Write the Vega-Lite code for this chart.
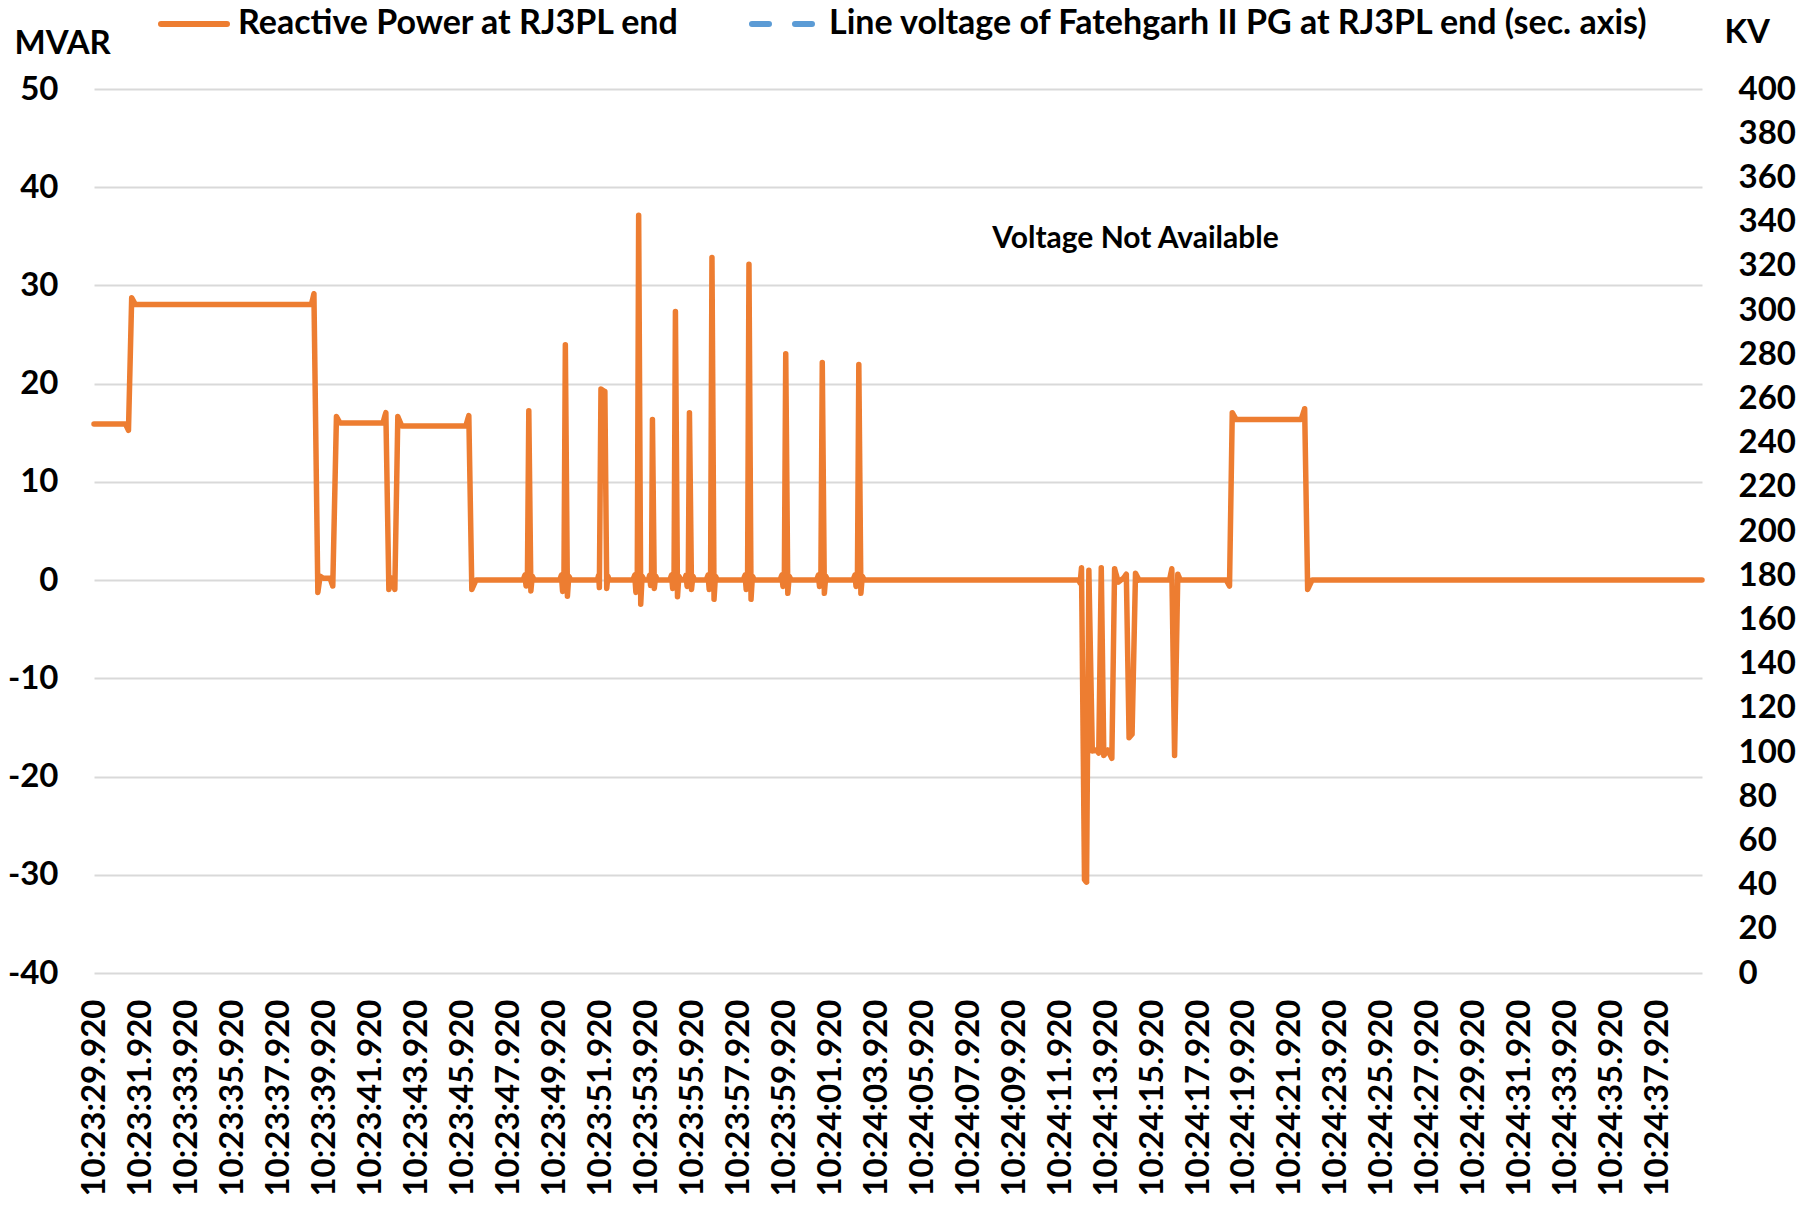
{
  "$schema": "https://vega.github.io/schema/vega-lite/v6.json",
  "width": 1608,
  "height": 884,
  "autosize": {"type": "none"},
  "padding": {"left": 94, "top": 89, "right": 110, "bottom": 241},
  "background": "white",
  "config": {
    "font": "Lato",
    "view": {"stroke": null},
    "axis": {
      "labelFont": "Lato", "labelFontWeight": "bold", "labelFontSize": 33, "labelColor": "black",
      "titleFont": "Lato", "titleFontWeight": "bold", "titleFontSize": 33, "titleColor": "black",
      "ticks": false, "tickSize": 0, "domain": false, "labelLimit": 500
    }
  },
  "data": {
    "values": [
      {"t": 29.88, "mvar": 15.9, "series": "Reactive Power at RJ3PL end"},
      {"t": 31.25, "mvar": 15.9, "series": "Reactive Power at RJ3PL end"},
      {"t": 31.38, "mvar": 15.25, "series": "Reactive Power at RJ3PL end"},
      {"t": 31.52, "mvar": 28.75, "series": "Reactive Power at RJ3PL end"},
      {"t": 31.68, "mvar": 28.05, "series": "Reactive Power at RJ3PL end"},
      {"t": 39.34, "mvar": 28.05, "series": "Reactive Power at RJ3PL end"},
      {"t": 39.45, "mvar": 29.15, "series": "Reactive Power at RJ3PL end"},
      {"t": 39.62, "mvar": -1.25, "series": "Reactive Power at RJ3PL end"},
      {"t": 39.72, "mvar": 0.4, "series": "Reactive Power at RJ3PL end"},
      {"t": 39.85, "mvar": 0.2, "series": "Reactive Power at RJ3PL end"},
      {"t": 40.15, "mvar": 0.2, "series": "Reactive Power at RJ3PL end"},
      {"t": 40.27, "mvar": -0.6, "series": "Reactive Power at RJ3PL end"},
      {"t": 40.43, "mvar": 16.65, "series": "Reactive Power at RJ3PL end"},
      {"t": 40.58, "mvar": 16.0, "series": "Reactive Power at RJ3PL end"},
      {"t": 42.45, "mvar": 16.0, "series": "Reactive Power at RJ3PL end"},
      {"t": 42.58, "mvar": 17.05, "series": "Reactive Power at RJ3PL end"},
      {"t": 42.71, "mvar": -0.95, "series": "Reactive Power at RJ3PL end"},
      {"t": 42.84, "mvar": 0.2, "series": "Reactive Power at RJ3PL end"},
      {"t": 42.97, "mvar": -0.95, "series": "Reactive Power at RJ3PL end"},
      {"t": 43.10, "mvar": 16.65, "series": "Reactive Power at RJ3PL end"},
      {"t": 43.27, "mvar": 15.7, "series": "Reactive Power at RJ3PL end"},
      {"t": 46.06, "mvar": 15.7, "series": "Reactive Power at RJ3PL end"},
      {"t": 46.19, "mvar": 16.75, "series": "Reactive Power at RJ3PL end"},
      {"t": 46.32, "mvar": -0.95, "series": "Reactive Power at RJ3PL end"},
      {"t": 46.50, "mvar": 0, "series": "Reactive Power at RJ3PL end"},
      {"t": 48.55, "mvar": 0, "series": "Reactive Power at RJ3PL end"},
      {"t": 48.63, "mvar": 0.5, "series": "Reactive Power at RJ3PL end"},
      {"t": 48.68, "mvar": -0.6, "series": "Reactive Power at RJ3PL end"},
      {"t": 48.74, "mvar": 0.4, "series": "Reactive Power at RJ3PL end"},
      {"t": 48.80, "mvar": 17.25, "series": "Reactive Power at RJ3PL end"},
      {"t": 48.89, "mvar": -1.1, "series": "Reactive Power at RJ3PL end"},
      {"t": 48.95, "mvar": 0.4, "series": "Reactive Power at RJ3PL end"},
      {"t": 49.04, "mvar": 0, "series": "Reactive Power at RJ3PL end"},
      {"t": 50.14, "mvar": 0, "series": "Reactive Power at RJ3PL end"},
      {"t": 50.22, "mvar": 0.5, "series": "Reactive Power at RJ3PL end"},
      {"t": 50.27, "mvar": -1.15, "series": "Reactive Power at RJ3PL end"},
      {"t": 50.33, "mvar": 0.4, "series": "Reactive Power at RJ3PL end"},
      {"t": 50.39, "mvar": 23.95, "series": "Reactive Power at RJ3PL end"},
      {"t": 50.48, "mvar": -1.65, "series": "Reactive Power at RJ3PL end"},
      {"t": 50.54, "mvar": 0.4, "series": "Reactive Power at RJ3PL end"},
      {"t": 50.63, "mvar": 0, "series": "Reactive Power at RJ3PL end"},
      {"t": 51.78, "mvar": 0, "series": "Reactive Power at RJ3PL end"},
      {"t": 51.84, "mvar": 0.5, "series": "Reactive Power at RJ3PL end"},
      {"t": 51.87, "mvar": -0.75, "series": "Reactive Power at RJ3PL end"},
      {"t": 51.94, "mvar": 19.45, "series": "Reactive Power at RJ3PL end"},
      {"t": 52.11, "mvar": 19.2, "series": "Reactive Power at RJ3PL end"},
      {"t": 52.19, "mvar": -0.85, "series": "Reactive Power at RJ3PL end"},
      {"t": 52.24, "mvar": 0.4, "series": "Reactive Power at RJ3PL end"},
      {"t": 52.30, "mvar": 0, "series": "Reactive Power at RJ3PL end"},
      {"t": 53.33, "mvar": 0, "series": "Reactive Power at RJ3PL end"},
      {"t": 53.41, "mvar": 0.5, "series": "Reactive Power at RJ3PL end"},
      {"t": 53.46, "mvar": -1.25, "series": "Reactive Power at RJ3PL end"},
      {"t": 53.52, "mvar": 0.4, "series": "Reactive Power at RJ3PL end"},
      {"t": 53.58, "mvar": 37.15, "series": "Reactive Power at RJ3PL end"},
      {"t": 53.67, "mvar": -2.45, "series": "Reactive Power at RJ3PL end"},
      {"t": 53.73, "mvar": 0.4, "series": "Reactive Power at RJ3PL end"},
      {"t": 53.82, "mvar": 0, "series": "Reactive Power at RJ3PL end"},
      {"t": 54.00, "mvar": 0, "series": "Reactive Power at RJ3PL end"},
      {"t": 54.06, "mvar": 0.5, "series": "Reactive Power at RJ3PL end"},
      {"t": 54.10, "mvar": -0.55, "series": "Reactive Power at RJ3PL end"},
      {"t": 54.14, "mvar": 0.4, "series": "Reactive Power at RJ3PL end"},
      {"t": 54.18, "mvar": 16.35, "series": "Reactive Power at RJ3PL end"},
      {"t": 54.26, "mvar": -0.85, "series": "Reactive Power at RJ3PL end"},
      {"t": 54.32, "mvar": 0.4, "series": "Reactive Power at RJ3PL end"},
      {"t": 54.40, "mvar": 0, "series": "Reactive Power at RJ3PL end"},
      {"t": 54.93, "mvar": 0, "series": "Reactive Power at RJ3PL end"},
      {"t": 55.01, "mvar": 0.5, "series": "Reactive Power at RJ3PL end"},
      {"t": 55.06, "mvar": -0.85, "series": "Reactive Power at RJ3PL end"},
      {"t": 55.12, "mvar": 0.4, "series": "Reactive Power at RJ3PL end"},
      {"t": 55.18, "mvar": 27.35, "series": "Reactive Power at RJ3PL end"},
      {"t": 55.27, "mvar": -1.7, "series": "Reactive Power at RJ3PL end"},
      {"t": 55.33, "mvar": 0.4, "series": "Reactive Power at RJ3PL end"},
      {"t": 55.42, "mvar": 0, "series": "Reactive Power at RJ3PL end"},
      {"t": 55.58, "mvar": 0, "series": "Reactive Power at RJ3PL end"},
      {"t": 55.64, "mvar": 0.5, "series": "Reactive Power at RJ3PL end"},
      {"t": 55.69, "mvar": -0.65, "series": "Reactive Power at RJ3PL end"},
      {"t": 55.74, "mvar": 0.4, "series": "Reactive Power at RJ3PL end"},
      {"t": 55.79, "mvar": 17.05, "series": "Reactive Power at RJ3PL end"},
      {"t": 55.88, "mvar": -0.95, "series": "Reactive Power at RJ3PL end"},
      {"t": 55.94, "mvar": 0.4, "series": "Reactive Power at RJ3PL end"},
      {"t": 56.02, "mvar": 0, "series": "Reactive Power at RJ3PL end"},
      {"t": 56.52, "mvar": 0, "series": "Reactive Power at RJ3PL end"},
      {"t": 56.60, "mvar": 0.5, "series": "Reactive Power at RJ3PL end"},
      {"t": 56.65, "mvar": -0.95, "series": "Reactive Power at RJ3PL end"},
      {"t": 56.71, "mvar": 0.4, "series": "Reactive Power at RJ3PL end"},
      {"t": 56.77, "mvar": 32.85, "series": "Reactive Power at RJ3PL end"},
      {"t": 56.86, "mvar": -1.95, "series": "Reactive Power at RJ3PL end"},
      {"t": 56.92, "mvar": 0.4, "series": "Reactive Power at RJ3PL end"},
      {"t": 57.01, "mvar": 0, "series": "Reactive Power at RJ3PL end"},
      {"t": 58.13, "mvar": 0, "series": "Reactive Power at RJ3PL end"},
      {"t": 58.21, "mvar": 0.5, "series": "Reactive Power at RJ3PL end"},
      {"t": 58.26, "mvar": -0.95, "series": "Reactive Power at RJ3PL end"},
      {"t": 58.32, "mvar": 0.4, "series": "Reactive Power at RJ3PL end"},
      {"t": 58.38, "mvar": 32.15, "series": "Reactive Power at RJ3PL end"},
      {"t": 58.47, "mvar": -1.95, "series": "Reactive Power at RJ3PL end"},
      {"t": 58.53, "mvar": 0.4, "series": "Reactive Power at RJ3PL end"},
      {"t": 58.62, "mvar": 0, "series": "Reactive Power at RJ3PL end"},
      {"t": 59.73, "mvar": 0, "series": "Reactive Power at RJ3PL end"},
      {"t": 59.81, "mvar": 0.5, "series": "Reactive Power at RJ3PL end"},
      {"t": 59.86, "mvar": -0.65, "series": "Reactive Power at RJ3PL end"},
      {"t": 59.92, "mvar": 0.4, "series": "Reactive Power at RJ3PL end"},
      {"t": 59.98, "mvar": 23.05, "series": "Reactive Power at RJ3PL end"},
      {"t": 60.07, "mvar": -1.35, "series": "Reactive Power at RJ3PL end"},
      {"t": 60.13, "mvar": 0.4, "series": "Reactive Power at RJ3PL end"},
      {"t": 60.22, "mvar": 0, "series": "Reactive Power at RJ3PL end"},
      {"t": 61.32, "mvar": 0, "series": "Reactive Power at RJ3PL end"},
      {"t": 61.40, "mvar": 0.5, "series": "Reactive Power at RJ3PL end"},
      {"t": 61.45, "mvar": -0.65, "series": "Reactive Power at RJ3PL end"},
      {"t": 61.51, "mvar": 0.4, "series": "Reactive Power at RJ3PL end"},
      {"t": 61.57, "mvar": 22.15, "series": "Reactive Power at RJ3PL end"},
      {"t": 61.66, "mvar": -1.35, "series": "Reactive Power at RJ3PL end"},
      {"t": 61.72, "mvar": 0.4, "series": "Reactive Power at RJ3PL end"},
      {"t": 61.81, "mvar": 0, "series": "Reactive Power at RJ3PL end"},
      {"t": 62.91, "mvar": 0, "series": "Reactive Power at RJ3PL end"},
      {"t": 62.99, "mvar": 0.5, "series": "Reactive Power at RJ3PL end"},
      {"t": 63.04, "mvar": -0.65, "series": "Reactive Power at RJ3PL end"},
      {"t": 63.10, "mvar": 0.4, "series": "Reactive Power at RJ3PL end"},
      {"t": 63.16, "mvar": 21.95, "series": "Reactive Power at RJ3PL end"},
      {"t": 63.25, "mvar": -1.35, "series": "Reactive Power at RJ3PL end"},
      {"t": 63.31, "mvar": 0.4, "series": "Reactive Power at RJ3PL end"},
      {"t": 63.40, "mvar": 0, "series": "Reactive Power at RJ3PL end"},
      {"t": 72.73, "mvar": 0, "series": "Reactive Power at RJ3PL end"},
      {"t": 72.79, "mvar": -0.3, "series": "Reactive Power at RJ3PL end"},
      {"t": 72.85, "mvar": 1.25, "series": "Reactive Power at RJ3PL end"},
      {"t": 72.98, "mvar": -30.5, "series": "Reactive Power at RJ3PL end"},
      {"t": 73.07, "mvar": -30.75, "series": "Reactive Power at RJ3PL end"},
      {"t": 73.17, "mvar": 1.0, "series": "Reactive Power at RJ3PL end"},
      {"t": 73.32, "mvar": -17.4, "series": "Reactive Power at RJ3PL end"},
      {"t": 73.50, "mvar": -17.3, "series": "Reactive Power at RJ3PL end"},
      {"t": 73.60, "mvar": -17.6, "series": "Reactive Power at RJ3PL end"},
      {"t": 73.71, "mvar": 1.25, "series": "Reactive Power at RJ3PL end"},
      {"t": 73.82, "mvar": -17.85, "series": "Reactive Power at RJ3PL end"},
      {"t": 74.00, "mvar": -17.3, "series": "Reactive Power at RJ3PL end"},
      {"t": 74.17, "mvar": -18.15, "series": "Reactive Power at RJ3PL end"},
      {"t": 74.29, "mvar": 1.15, "series": "Reactive Power at RJ3PL end"},
      {"t": 74.45, "mvar": -0.2, "series": "Reactive Power at RJ3PL end"},
      {"t": 74.68, "mvar": 0.2, "series": "Reactive Power at RJ3PL end"},
      {"t": 74.80, "mvar": 0.6, "series": "Reactive Power at RJ3PL end"},
      {"t": 74.92, "mvar": -16.05, "series": "Reactive Power at RJ3PL end"},
      {"t": 75.05, "mvar": -15.7, "series": "Reactive Power at RJ3PL end"},
      {"t": 75.20, "mvar": 0.7, "series": "Reactive Power at RJ3PL end"},
      {"t": 75.35, "mvar": 0, "series": "Reactive Power at RJ3PL end"},
      {"t": 76.68, "mvar": 0, "series": "Reactive Power at RJ3PL end"},
      {"t": 76.78, "mvar": 1.15, "series": "Reactive Power at RJ3PL end"},
      {"t": 76.90, "mvar": -17.85, "series": "Reactive Power at RJ3PL end"},
      {"t": 77.04, "mvar": 0.6, "series": "Reactive Power at RJ3PL end"},
      {"t": 77.15, "mvar": 0, "series": "Reactive Power at RJ3PL end"},
      {"t": 79.15, "mvar": 0, "series": "Reactive Power at RJ3PL end"},
      {"t": 79.29, "mvar": -0.6, "series": "Reactive Power at RJ3PL end"},
      {"t": 79.41, "mvar": 17.05, "series": "Reactive Power at RJ3PL end"},
      {"t": 79.58, "mvar": 16.35, "series": "Reactive Power at RJ3PL end"},
      {"t": 82.41, "mvar": 16.35, "series": "Reactive Power at RJ3PL end"},
      {"t": 82.56, "mvar": 17.45, "series": "Reactive Power at RJ3PL end"},
      {"t": 82.69, "mvar": -0.95, "series": "Reactive Power at RJ3PL end"},
      {"t": 82.88, "mvar": 0, "series": "Reactive Power at RJ3PL end"},
      {"t": 99.85, "mvar": 0, "series": "Reactive Power at RJ3PL end"},
      {"t": 75.2, "kv": 332, "note": "Voltage Not Available"}
    ]
  },
  "layer": [
    {
      "transform": [{"filter": "isValid(datum.mvar)"}],
      "mark": {"type": "line", "strokeWidth": 5.5, "strokeCap": "round", "strokeJoin": "round"},
      "encoding": {
        "x": {
          "field": "t", "type": "quantitative",
          "scale": {"domain": [29.88, 99.85], "nice": false, "zero": false},
          "axis": {
            "values": [29.92, 31.92, 33.92, 35.92, 37.92, 39.92, 41.92, 43.92, 45.92, 47.92, 49.92, 51.92, 53.92, 55.92, 57.92, 59.92, 61.92, 63.92, 65.92, 67.92, 69.92, 71.92, 73.92, 75.92, 77.92, 79.92, 81.92, 83.92, 85.92, 87.92, 89.92, 91.92, 93.92, 95.92, 97.92],
            "labelExpr": "datum.value < 60 ? '10:23:' + format(datum.value, '06.3f') : '10:24:' + format(datum.value - 60, '06.3f')",
            "labelAngle": -90, "labelPadding": 26, "labelLimit": 500, "grid": false, "title": null, "labelOverlap": false, "labelBound": false, "labelFlush": false
          }
        },
        "y": {
          "field": "mvar", "type": "quantitative",
          "scale": {"domain": [-40, 50], "nice": false, "zero": false},
          "axis": {
            "values": [-40, -30, -20, -10, 0, 10, 20, 30, 40, 50],
            "labelExpr": "(datum.value < 0 ? '-' : '') + abs(datum.value)",
            "grid": true, "gridColor": "#D9D9D9", "gridWidth": 2,
            "labelPadding": 36,
            "title": "MVAR", "titleAngle": 0, "titleAlign": "left", "titleBaseline": "middle",
            "titleX": -80, "titleY": -46
          }
        },
        "color": {
          "field": "series", "type": "nominal",
          "scale": {"domain": ["Reactive Power at RJ3PL end", "Line voltage of Fatehgarh II PG at RJ3PL end (sec. axis)"], "range": ["#ED7D31", "#5B9BD5"]},
          "legend": {
            "title": null, "orient": "none", "legendX": 64, "legendY": -101, "direction": "horizontal", "columns": 2, "columnPadding": 60,
            "symbolType": "stroke", "symbolSize": 4356, "symbolStrokeWidth": 6,
            "labelFont": "Lato", "labelFontWeight": "bold", "labelFontSize": 34, "labelColor": "black", "labelLimit": 1200, "labelOffset": 8, "padding": 0,
            "encode": {"symbols": {"update": {"strokeCap": {"value": "round"}}}}
          }
        },
        "strokeDash": {
          "field": "series", "type": "nominal",
          "scale": {"domain": ["Reactive Power at RJ3PL end", "Line voltage of Fatehgarh II PG at RJ3PL end (sec. axis)"], "range": [[1, 0], [17, 26]]},
          "legend": {
            "title": null, "orient": "none", "legendX": 64, "legendY": -101, "direction": "horizontal", "columns": 2, "columnPadding": 60,
            "symbolType": "stroke", "symbolSize": 4356, "symbolStrokeWidth": 6,
            "labelFont": "Lato", "labelFontWeight": "bold", "labelFontSize": 34, "labelColor": "black", "labelLimit": 1200, "labelOffset": 8, "padding": 0,
            "encode": {"symbols": {"update": {"strokeCap": {"value": "round"}}}}
          }
        }
      }
    },
    {
      "transform": [{"filter": "isValid(datum.note)"}],
      "mark": {"type": "text", "font": "Lato", "fontWeight": "bold", "fontSize": 30, "align": "center", "baseline": "middle", "color": "black"},
      "encoding": {
        "x": {"field": "t", "type": "quantitative"},
        "y": {
          "field": "kv", "type": "quantitative",
          "scale": {"domain": [0, 400], "nice": false, "zero": false},
          "axis": {
            "orient": "right",
            "values": [0, 20, 40, 60, 80, 100, 120, 140, 160, 180, 200, 220, 240, 260, 280, 300, 320, 340, 360, 380, 400],
            "grid": false, "labelPadding": 36, "labelAlign": "left",
            "title": "KV", "titleAngle": 0, "titleAlign": "left", "titleBaseline": "middle",
            "titleX": 22, "titleY": -57
          }
        },
        "text": {"field": "note"}
      }
    }
  ],
  "resolve": {"scale": {"y": "independent"}}
}
